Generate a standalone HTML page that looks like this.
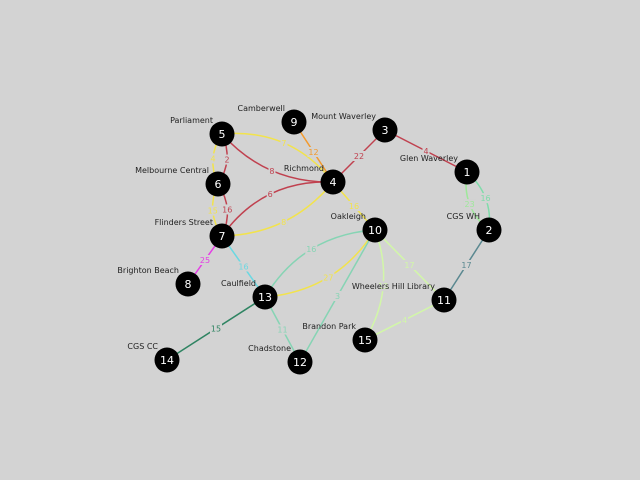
<!DOCTYPE html>
<html><head><meta charset="utf-8"><style>
html,body{margin:0;padding:0;background:#d3d3d3;}
svg{display:block;font-family:"DejaVu Sans","Liberation Sans",sans-serif;}
</style></head><body>
<svg id="g" width="640" height="480" viewBox="0 0 640 480">
<rect width="640" height="480" fill="#d3d3d3"/>
<g id="edges"></g>
<g id="elabels"></g>
<g id="nodes"></g>
</svg>
<script>
const nodeIds = [1,2,3,4,5,6,7,8,9,10,11,12,13,14,15];
const nodeX = [467,489,385,333,222,218,222,188,294,375,444,300,265,167,365];
const nodeY = [172,230,130,182,134,184,236,284,122,230,300,362,297,360,340];
const nodeNames = ["Glen Waverley","CGS WH","Mount Waverley","Richmond","Parliament","Melbourne Central","Flinders Street","Brighton Beach","Camberwell","Oakleigh","Wheelers Hill Library","Chadstone","Caulfield","CGS CC","Brandon Park"];
const edgeFrom = [5,5,6,6,5,5,7,7,9,3,3,1,1,4,7,7,10,10,10,10,10,2,11,13,13];
const edgeTo   = [6,6,7,7,4,4,4,4,4,4,1,2,2,10,8,13,13,13,12,11,15,11,15,14,12];
const edgeWeights = [4,2,15,16,7,8,6,8,12,22,4,23,16,16,25,16,16,27,3,17,13,17,4,15,11];
const edgeColors = ["#f2e34c","#c0414f","#f2e34c","#c0414f","#f2e34c","#c0414f","#c0414f","#f2e34c","#f39a2e","#c0414f","#c0414f","#9ee89a","#7fdcaa","#f2e34c","#e53ee5","#6ad8e2","#86d4b4","#f2e34c","#86d4b4","#d2f7a8","#d2f7a8","#5a8890","#d2f7a8","#2f8462","#86d4b4"];
const edgeRad = [0.28,-0.28,0.28,-0.28,-0.27,0.23,-0.27,0.23,0,0,0,0.29,-0.26,0,0,0,0.26,-0.25,0,0,-0.24,0,0,0,0];
const NS="http://www.w3.org/2000/svg";
const eg=document.getElementById('edges'), lg=document.getElementById('elabels'), ng=document.getElementById('nodes');
function px(id){return nodeX[nodeIds.indexOf(id)];}
function py(id){return nodeY[nodeIds.indexOf(id)];}
for(let i=0;i<edgeFrom.length;i++){
  const x1=px(edgeFrom[i]),y1=py(edgeFrom[i]),x2=px(edgeTo[i]),y2=py(edgeTo[i]);
  const dx=x2-x1,dy=y2-y1,r=edgeRad[i];
  const mx=(x1+x2)/2,my=(y1+y2)/2;
  const cx=mx-dy*r, cy=my+dx*r;
  const p=document.createElementNS(NS,'path');
  p.setAttribute('d',`M${x1},${y1} Q${cx},${cy} ${x2},${y2}`);
  p.setAttribute('fill','none');p.setAttribute('stroke',edgeColors[i]);p.setAttribute('stroke-width','1.5');
  
  
  eg.appendChild(p);
  const lx=0.25*x1+0.5*cx+0.25*x2, ly=0.25*y1+0.5*cy+0.25*y2;
  const s=String(edgeWeights[i]);
  const bg=document.createElementNS(NS,'rect');
  const w=s.length*5+2;
  bg.setAttribute('x',lx-w/2);bg.setAttribute('y',ly-5);bg.setAttribute('width',w);bg.setAttribute('height',10);bg.setAttribute('fill','#d3d3d3');
  
  
  lg.appendChild(bg);
  const t=document.createElementNS(NS,'text');
  t.setAttribute('x',lx);t.setAttribute('y',ly+3);t.setAttribute('text-anchor','middle');t.setAttribute('font-size','8');t.setAttribute('fill',edgeColors[i]);
  t.textContent=s;
  
  
  lg.appendChild(t);
}
for(let i=0;i<nodeIds.length;i++){
  const c=document.createElementNS(NS,'circle');
  c.setAttribute('cx',nodeX[i]);c.setAttribute('cy',nodeY[i]);c.setAttribute('r','12.5');c.setAttribute('fill','#000');
  
  
  ng.appendChild(c);
  const t=document.createElementNS(NS,'text');
  t.setAttribute('x',nodeX[i]);t.setAttribute('y',nodeY[i]+4);t.setAttribute('text-anchor','middle');t.setAttribute('font-size','11');t.setAttribute('fill','#fff');
  t.textContent=nodeIds[i];
  
  
  ng.appendChild(t);
  const n=document.createElementNS(NS,'text');
  n.setAttribute('x',nodeX[i]-9);n.setAttribute('y',nodeY[i]-11);n.setAttribute('text-anchor','end');n.setAttribute('font-size','8');n.setAttribute('fill','#222');
  n.textContent=nodeNames[i];
  
  
  ng.appendChild(n);
}
</script>
</body></html>
